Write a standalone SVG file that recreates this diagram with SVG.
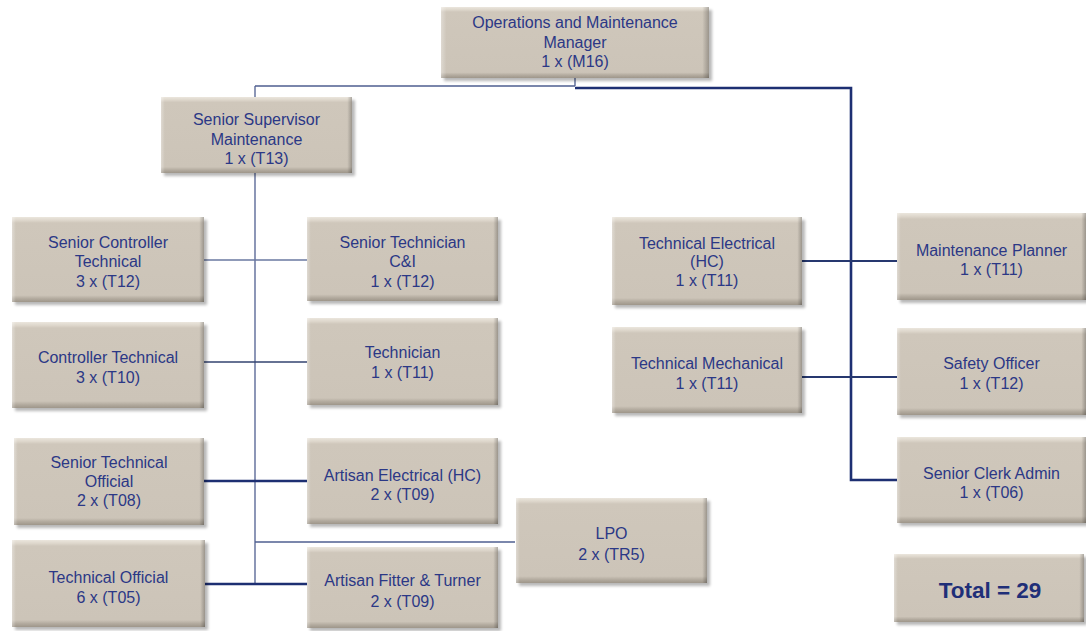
<svg xmlns="http://www.w3.org/2000/svg" width="1086" height="631" viewBox="0 0 1086 631">
<style>
.bx{fill:url(#gv)}
.ov{fill:url(#gh)}
.sh{fill:#000;opacity:0.28;filter:url(#blur)}
.t{font-family:"Liberation Sans",Arial,sans-serif;font-size:16px;fill:#2b3886;text-anchor:middle}
.tb{font-family:"Liberation Sans",Arial,sans-serif;font-size:22.5px;font-weight:bold;fill:#1f2f78;text-anchor:middle}
.thin{fill:none;stroke:#4f5f90;stroke-width:1.3}
.mid{fill:none;stroke:#26386f;stroke-width:1.8}
.thick{fill:none;stroke:#1d2f72;stroke-width:2.6}
</style>
<defs>
<filter id="blur" x="-10%" y="-10%" width="120%" height="120%"><feGaussianBlur stdDeviation="1.5"/></filter>
<linearGradient id="gv" x1="0" y1="0" x2="0" y2="1">
<stop offset="0" stop-color="#ebe6dd"/>
<stop offset="0.04" stop-color="#ddd6cb"/>
<stop offset="0.07" stop-color="#cfc7bb"/>
<stop offset="0.92" stop-color="#ccc4b8"/>
<stop offset="0.96" stop-color="#b3ab9f"/>
<stop offset="1" stop-color="#9e968a"/>
</linearGradient>
<linearGradient id="gh" x1="0" y1="0" x2="1" y2="0">
<stop offset="0" stop-color="#fff" stop-opacity="0.35"/>
<stop offset="0.02" stop-color="#fff" stop-opacity="0"/>
<stop offset="0.975" stop-color="#000" stop-opacity="0"/>
<stop offset="0.99" stop-color="#000" stop-opacity="0.15"/>
<stop offset="1" stop-color="#000" stop-opacity="0.25"/>
</linearGradient>
</defs>
<rect width="1086" height="631" fill="#fff"/>
<g id="connectors">
<path class="thin" d="M575,78 V86 M255,86 H575 M255,86 V97"/>
<path class="thick" d="M575,88 H851 V480 H897"/>
<path class="thin" d="M255,173 V584"/>
<path class="thin" d="M204,260 H307" style="stroke:#6a78a0"/>
<path class="thin" d="M204,362 H307" style="stroke:#33436f"/>
<path class="thick" d="M204,481 H307"/>
<path class="thick" d="M205,584 H307"/>
<path class="thin" d="M255,542 H515"/>
<path class="mid" d="M802,261 H897"/>
<path class="mid" d="M802,377 H897"/>
</g>
<g id="ops"><rect class="sh" x="444" y="10" width="268" height="71"/><rect class="bx" x="441" y="7" width="268" height="71"/><rect class="ov" x="441" y="7" width="268" height="71"/>
<text class="t" x="575" y="28">Operations and Maintenance</text><text class="t" x="575" y="47.5">Manager</text><text class="t" x="575" y="67">1 x (M16)</text></g>
<g id="sup"><rect class="sh" x="164" y="100" width="191" height="76"/><rect class="bx" x="161" y="97" width="191" height="76"/><rect class="ov" x="161" y="97" width="191" height="76"/>
<text class="t" x="256.5" y="125">Senior Supervisor</text><text class="t" x="256.5" y="144.5">Maintenance</text><text class="t" x="256.5" y="164">1 x (T13)</text></g>
<g id="sct"><rect class="sh" x="15" y="220" width="192" height="85"/><rect class="bx" x="12" y="217" width="192" height="85"/><rect class="ov" x="12" y="217" width="192" height="85"/>
<text class="t" x="108" y="247.5">Senior Controller</text><text class="t" x="108" y="267">Technical</text><text class="t" x="108" y="286.5">3 x (T12)</text></g>
<g id="stc"><rect class="sh" x="310" y="220" width="191" height="84"/><rect class="bx" x="307" y="217" width="191" height="84"/><rect class="ov" x="307" y="217" width="191" height="84"/>
<text class="t" x="402.5" y="247.5">Senior Technician</text><text class="t" x="402.5" y="267">C&amp;I</text><text class="t" x="402.5" y="286.5">1 x (T12)</text></g>
<g id="ct"><rect class="sh" x="15" y="325" width="192" height="86"/><rect class="bx" x="12" y="322" width="192" height="86"/><rect class="ov" x="12" y="322" width="192" height="86"/>
<text class="t" x="108" y="362.5">Controller Technical</text><text class="t" x="108" y="382.5">3 x (T10)</text></g>
<g id="tech"><rect class="sh" x="310" y="321" width="191" height="87"/><rect class="bx" x="307" y="318" width="191" height="87"/><rect class="ov" x="307" y="318" width="191" height="87"/>
<text class="t" x="402.5" y="357.5">Technician</text><text class="t" x="402.5" y="377.5">1 x (T11)</text></g>
<g id="sto"><rect class="sh" x="17" y="441" width="190" height="87"/><rect class="bx" x="14" y="438" width="190" height="87"/><rect class="ov" x="14" y="438" width="190" height="87"/>
<text class="t" x="109" y="467.5">Senior Technical</text><text class="t" x="109" y="486.5">Official</text><text class="t" x="109" y="505.5">2 x (T08)</text></g>
<g id="aeh"><rect class="sh" x="310" y="441" width="191" height="86"/><rect class="bx" x="307" y="438" width="191" height="86"/><rect class="ov" x="307" y="438" width="191" height="86"/>
<text class="t" x="402.5" y="480.5">Artisan Electrical (HC)</text><text class="t" x="402.5" y="499.5">2 x (T09)</text></g>
<g id="to"><rect class="sh" x="15" y="543" width="193" height="87"/><rect class="bx" x="12" y="540" width="193" height="87"/><rect class="ov" x="12" y="540" width="193" height="87"/>
<text class="t" x="108.5" y="582.5">Technical Official</text><text class="t" x="108.5" y="602.5">6 x (T05)</text></g>
<g id="aft"><rect class="sh" x="310" y="550" width="191" height="81"/><rect class="bx" x="307" y="547" width="191" height="81"/><rect class="ov" x="307" y="547" width="191" height="81"/>
<text class="t" x="402.5" y="585.5">Artisan Fitter &amp; Turner</text><text class="t" x="402.5" y="606.5">2 x (T09)</text></g>
<g id="lpo"><rect class="sh" x="519" y="501" width="191" height="85"/><rect class="bx" x="516" y="498" width="191" height="85"/><rect class="ov" x="516" y="498" width="191" height="85"/>
<text class="t" x="611.5" y="538.5">LPO</text><text class="t" x="611.5" y="559.5">2 x (TR5)</text></g>
<g id="te"><rect class="sh" x="615" y="220" width="190" height="88"/><rect class="bx" x="612" y="217" width="190" height="88"/><rect class="ov" x="612" y="217" width="190" height="88"/>
<text class="t" x="707" y="248.5">Technical Electrical</text><text class="t" x="707" y="266.5">(HC)</text><text class="t" x="707" y="285.5">1 x (T11)</text></g>
<g id="tm"><rect class="sh" x="615" y="330" width="190" height="86"/><rect class="bx" x="612" y="327" width="190" height="86"/><rect class="ov" x="612" y="327" width="190" height="86"/>
<text class="t" x="707" y="368.5">Technical Mechanical</text><text class="t" x="707" y="388.5">1 x (T11)</text></g>
<g id="mp"><rect class="sh" x="900" y="216" width="189" height="87"/><rect class="bx" x="897" y="213" width="189" height="87"/><rect class="ov" x="897" y="213" width="189" height="87"/>
<text class="t" x="991.5" y="255.5">Maintenance Planner</text><text class="t" x="991.5" y="274.5">1 x (T11)</text></g>
<g id="so"><rect class="sh" x="900" y="331" width="189" height="87"/><rect class="bx" x="897" y="328" width="189" height="87"/><rect class="ov" x="897" y="328" width="189" height="87"/>
<text class="t" x="991.5" y="368.5">Safety Officer</text><text class="t" x="991.5" y="388.5">1 x (T12)</text></g>
<g id="sca"><rect class="sh" x="900" y="440" width="189" height="86"/><rect class="bx" x="897" y="437" width="189" height="86"/><rect class="ov" x="897" y="437" width="189" height="86"/>
<text class="t" x="991.5" y="478.5">Senior Clerk Admin</text><text class="t" x="991.5" y="497.5">1 x (T06)</text></g>
<g id="total"><rect class="sh" x="897" y="557" width="190" height="68"/><rect class="bx" x="894" y="554" width="190" height="68"/><rect class="ov" x="894" y="554" width="190" height="68"/>
<text class="tb" x="990" y="598">Total = 29</text></g>
</svg>
